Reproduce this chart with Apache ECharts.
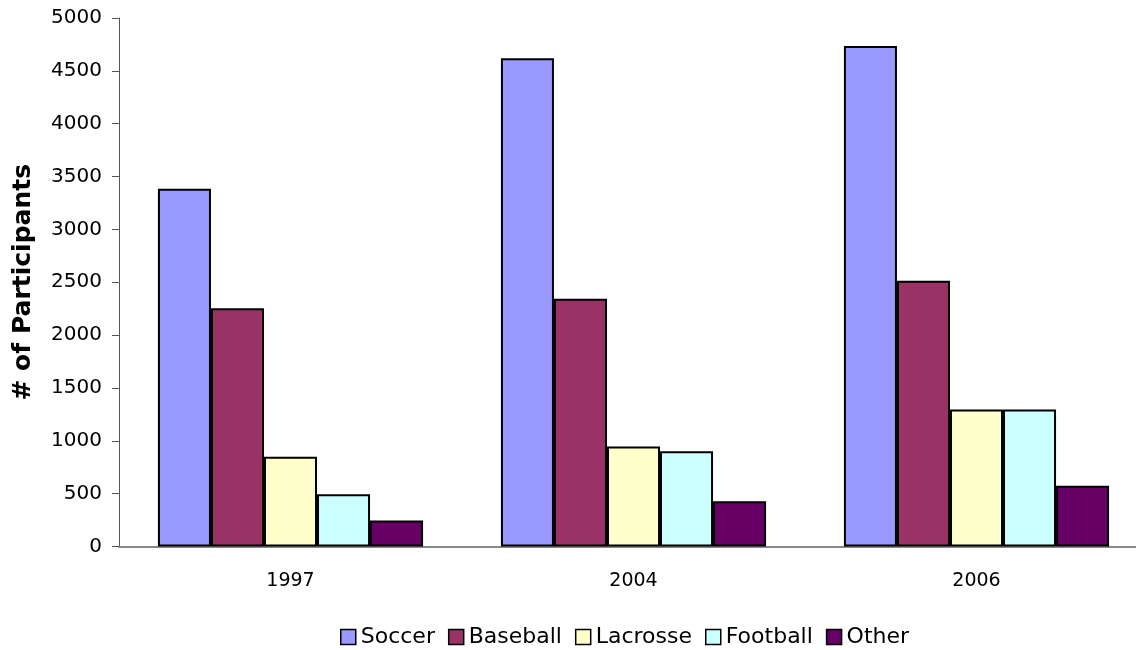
<!DOCTYPE html>
<html>
<head>
<meta charset="utf-8">
<script src="https://cdn.jsdelivr.net/npm/echarts@6/dist/echarts.min.js"></script>
<style>html,body{margin:0;padding:0;background:#fff;overflow:hidden;width:1136px;height:650px}#c{width:1148px;height:650px}</style>
</head>
<body>
<div id="c"></div>
<script>
const categories = ['1997', '2004', '2006'];
const seriesNames = ['Soccer', 'Baseball', 'Lacrosse', 'Football', 'Other'];
const soccer   = [3385, 4620, 4735];
const baseball = [2255, 2345, 2515];
const lacrosse = [848, 945, 1295];
const football = [495, 900, 1295];
const other    = [245, 428, 575];
const yTicks = { min: 0, max: 5000, interval: 500 };
const colors = ['#9999FF', '#993366', '#FFFFCC', '#CCFFFF', '#660066'];

const values = [soccer, baseball, lacrosse, football, other];
const FONT = 'DejaVu Sans';

const chart = echarts.init(document.getElementById('c'), null, { renderer: 'canvas' });
chart.setOption({
  animation: false,
  backgroundColor: '#ffffff',
  grid: { left: 119, top: 18, right: 0, bottom: 103.5, containLabel: false },
  legend: {
    left: 340, top: 626, padding: 0,
    itemWidth: 15, itemHeight: 15, itemGap: 13,
    icon: 'rect',
    textStyle: { fontFamily: FONT, fontSize: 22, color: '#000' },
    itemStyle: { borderColor: '#000', borderWidth: 1.5 },
    data: seriesNames
  },
  xAxis: {
    type: 'category',
    data: categories,
    axisLine: { lineStyle: { color: '#888', width: 2 } },
    axisTick: { show: false },
    axisLabel: { fontFamily: FONT, fontSize: 19, color: '#000', margin: 25 },
    splitLine: { show: false }
  },
  yAxis: {
    type: 'value',
    min: yTicks.min, max: yTicks.max, interval: yTicks.interval,
    name: '# of Participants',
    nameLocation: 'middle',
    nameGap: 83,
    nameTextStyle: { fontFamily: FONT, fontSize: 25, fontWeight: 'bold', color: '#000' },
    axisLine: { show: true, lineStyle: { color: '#555', width: 1 } },
    axisTick: { show: true, length: 7, lineStyle: { color: '#555' } },
    axisLabel: { fontFamily: FONT, fontSize: 20, color: '#000', margin: 17, formatter: v => String(v) },
    splitLine: { show: false }
  },
  series: seriesNames.map((n, i) => ({
    name: n,
    type: 'bar',
    data: values[i],
    barGap: '0%',
    barCategoryGap: '22.7%',
    itemStyle: { color: colors[i], borderColor: '#000', borderWidth: 2 }
  }))
});
</script>
</body>
</html>
